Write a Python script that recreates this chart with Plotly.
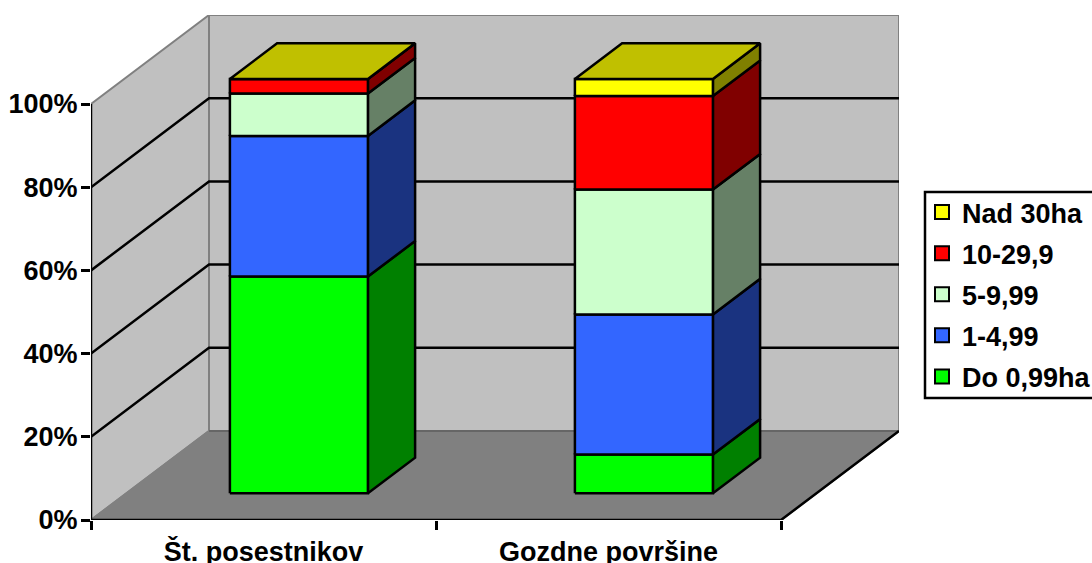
import plotly.graph_objects as go

categories = ["Št. posestnikov", "Gozdne površine"]
series_names = ["Do 0,99ha", "1-4,99", "5-9,99", "10-29,9", "Nad 30ha"]
do_099 = [52.1, 9.3]
od_1_499 = [33.8, 33.7]
od_5_999 = [10.2, 30.0]
od_10_299 = [3.5, 22.5]
nad_30 = [0.0, 4.1]
y_ticks = [0, 20, 40, 60, 80, 100]

series_values = [do_099, od_1_499, od_5_999, od_10_299, nad_30]
front_colors = ["#00FF00", "#3366FF", "#CCFFCC", "#FF0000", "#FFFF00"]
side_colors = ["#008000", "#1A3380", "#668066", "#800000", "#808000"]
top_color = "#C0C000"

# oblique projection parameters (depth -> axis units)
DX = 118 / 345
DY = 89 / 4.16
BAR_W = 0.40
D0, D1 = 0.30, 0.70
FONT = dict(family="Liberation Sans", size=27, color="black", weight=700)
LINE_W = 2.5


def proj(c, d, v):
    return c + d * DX, v + d * DY


def poly(points, fill, line_color="black", width=LINE_W, closed=True):
    pts = [proj(*p) for p in points]
    if closed:
        pts.append(pts[0])
    return go.Scatter(
        x=[p[0] for p in pts], y=[p[1] for p in pts], mode="lines",
        fill="toself" if fill else None, fillcolor=fill,
        line=dict(color=line_color, width=width), hoverinfo="skip",
        showlegend=False, cliponaxis=False,
    )


n = len(categories)
traces = []
# walls and floor
traces.append(poly([(0, 0, 0), (0, 0, 100), (0, 1, 100), (0, 1, 0)], "#C0C0C0", "#808080", 2))
traces.append(poly([(0, 1, 0), (0, 1, 100), (n, 1, 100), (n, 1, 0)], "#C0C0C0", "#808080", 2))
for t in y_ticks[1:-1]:
    traces.append(poly([(0, 0, t), (0, 1, t), (n, 1, t)], None, closed=False))
traces.append(poly([(0, 0, 0), (0, 1, 0), (n, 1, 0), (n, 0, 0)], "#808080", "#808080", 2))
traces.append(poly([(0, 1, 0), (n, 1, 0)], None, "#666666", 2, closed=False))
traces.append(poly([(n, 1, 0), (n, 0, 0), (0, 0, 0), (0, 0, 100)], None, closed=False))

# stacked boxes
for i in range(n):
    left, right = i + 0.5 - BAR_W / 2, i + 0.5 + BAR_W / 2
    base = 0.0
    for values, fc, sc in zip(series_values, front_colors, side_colors):
        topv = base + values[i]
        traces.append(poly([(right, D0, base), (right, D1, base), (right, D1, topv), (right, D0, topv)], sc))
        traces.append(poly([(left, D0, base), (right, D0, base), (right, D0, topv), (left, D0, topv)], fc))
        base = topv
    traces.append(poly([(left, D0, base), (right, D0, base), (right, D1, base), (left, D1, base)], top_color))

# legend entries (top row is the last series)
for name, fc in reversed(list(zip(series_names, front_colors))):
    traces.append(go.Scatter(
        x=[None], y=[None], mode="markers", name=name, legendgroup=name,
        marker=dict(symbol="square", size=14, color=fc, line=dict(color="black", width=2)),
    ))

fig = go.Figure(traces)
fig.update_layout(
    width=1092, height=563, autosize=False,
    paper_bgcolor="white", plot_bgcolor="white",
    margin=dict(l=91, r=193, t=15, b=43, pad=0, autoexpand=False),
    font=FONT,
    showlegend=True,
    legend=dict(
        xref="container", yref="container", x=922 / 1092, y=1 - 188 / 563,
        xanchor="left", yanchor="top",
        traceorder="grouped", tracegroupgap=3,
        borderwidth=0, bgcolor="rgba(0,0,0,0)", font=FONT,
        itemclick=False, itemdoubleclick=False,
    ),
    shapes=[dict(
        type="rect", xref="paper", yref="paper", layer="below",
        x0=(925 - 91) / 808, x1=(1100 - 91) / 808,
        y0=(520 - 398) / 505, y1=(520 - 192) / 505,
        line=dict(color="black", width=2.5), fillcolor="white",
    )],
    xaxis=dict(
        range=[0, n + DX], showgrid=False, zeroline=False, showline=False, automargin=False,
        tickmode="array", tickvals=[i + 0.5 for i in range(n)], ticktext=categories,
        ticks="", ticklabelstandoff=13, tickfont=FONT,
        minor=dict(tickmode="array", tickvals=list(range(n + 1)), ticks="outside",
                   ticklen=9, tickwidth=2.5, tickcolor="black"),
    ),
    yaxis=dict(
        range=[0, 100 + DY], showgrid=False, zeroline=False, showline=False, automargin=False,
        tickmode="array", tickvals=y_ticks, ticktext=[f"{t}%" for t in y_ticks],
        ticks="outside", ticklen=9, tickwidth=2.5, tickcolor="black", tickfont=FONT,
        ticklabelstandoff=-2,
    ),
)
fig.write_html("out.html", post_script="document.body.style.margin='0';", config={"displayModeBar": False})
